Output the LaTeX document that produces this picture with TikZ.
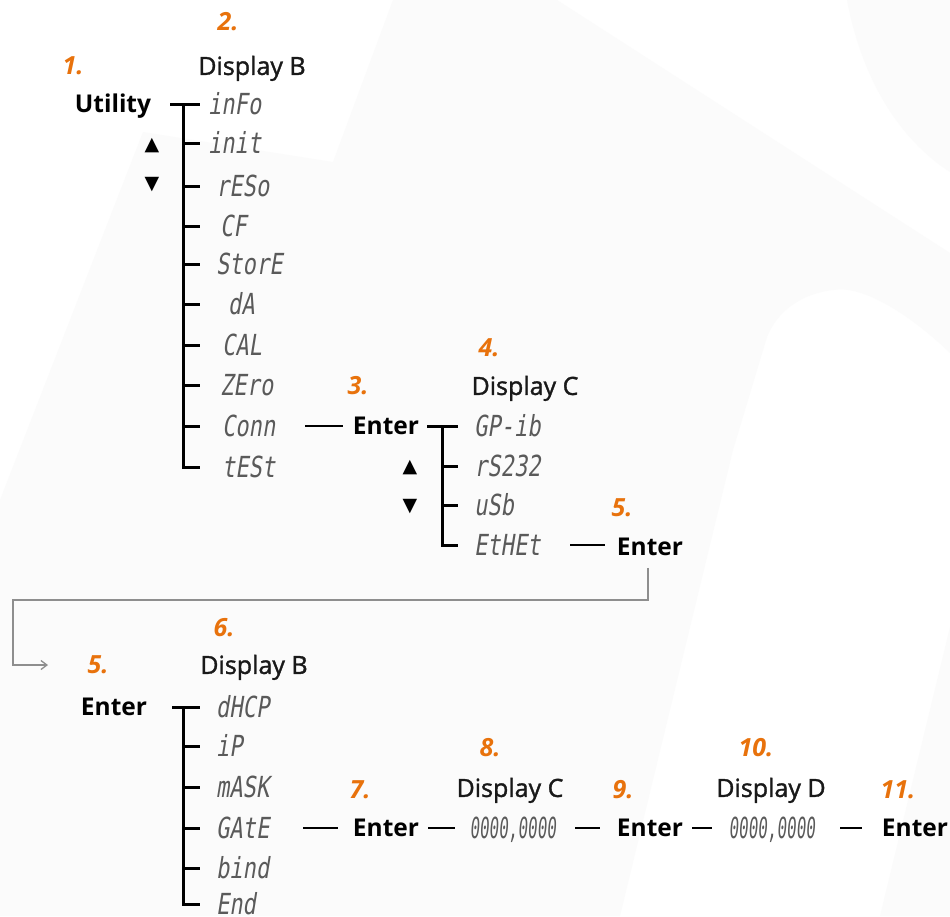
\documentclass[tikz,border=0pt]{standalone}
\usepackage{fontspec}
\setmainfont{Open Sans}
\newfontfamily\lblfont[FakeBold=1.4]{Open Sans}
\newfontfamily\symfont{DejaVu Sans}
\newfontfamily\segfont[FakeStretch=0.76,FakeSlant=0.16]{DejaVu Sans Mono}
\newfontfamily\digfont[FakeStretch=0.55,FakeSlant=0.08]{DejaVu Sans Mono}
\usetikzlibrary{arrows.meta}
\definecolor{orng}{HTML}{E8720C}
\definecolor{segc}{HTML}{5A5A5A}
\definecolor{gline}{HTML}{8E8E8E}
\definecolor{bgc}{HTML}{FBFBFB}
\begin{document}
\begin{tikzpicture}[x=1pt,y=-1pt,
  lbl/.style={font=\lblfont\fontsize{25}{28}\selectfont, text=black!90, inner sep=0, text height=17.8pt, text depth=0pt},
  key/.style={font=\bfseries\fontsize{24.5}{28}\selectfont, inner sep=0, text height=17.5pt, text depth=0pt},
  num/.style={font=\bfseries\itshape\fontsize{25}{28}\selectfont, text=orng, inner sep=0, text height=17.8pt, text depth=0pt},
  seg/.style={font=\segfont\fontsize{29}{32}\selectfont, text=segc, anchor=west, inner sep=0, text height=21pt, text depth=0pt},
  dig/.style={font=\digfont\fontsize{29}{32}\selectfont, text=segc, inner sep=0, text height=21pt, text depth=0pt},
  arr/.style={font=\symfont\fontsize{19}{22}\selectfont, inner sep=0},
  tree/.style={line width=3pt, black},
  link/.style={line width=2.6pt, black},
]
\useasboundingbox (0,0) rectangle (950,916);
% ---------- faint background ----------
\fill[white] (0,0) rectangle (950,916);
\fill[bgc] (0,500) -- (143,132) -- (333,162) -- (393,0) -- (557,0) -- (950,253) -- (950,353)
  .. controls (905,310) and (860,285) .. (833,290)
  .. controls (800,294) and (777,312) .. (767,337)
  -- (733,450) -- (620,916) -- (0,916) -- cycle;
\fill[bgc] (950,627) -- (880,916) -- (950,916) -- cycle;
\fill[bgc] (847,0) .. controls (862,80) and (900,140) .. (950,172) -- (950,0) -- cycle;

% ---------- first menu ----------
\node[num] (n1) at (73,66) {1.};
\node[num] (n2) at (228,22) {2.};
\node[lbl] (dB1) at (252,66) {Display B};
\node[key] (util) at (113,104) {Utility};
\node[arr] (up1) at (152,146) {▲};
\node[arr] (dn1) at (152,185) {▼};

\node[seg] (a1)  at (208,104) {inFo};
\node[seg] (a2)  at (208,143) {init};
\node[seg] (a3)  at (216,186) {rESo};
\node[seg] (a4)  at (220,226) {CF};
\node[seg] (a5)  at (216,264) {StorE};
\node[seg] (a6)  at (228,304) {dA};
\node[seg] (a7)  at (222,345) {CAL};
\node[seg] (a8)  at (220,385) {ZEro};
\node[seg] (a9)  at (222,426) {Conn};
\node[seg] (a10) at (222,467) {tESt};

\coordinate (t1) at (183,104);
\draw[tree] (170,104) -- (200,104);
\draw[tree] (t1) |- (200,467);
\foreach \y in {143,186,226,264,304,345,385,426} \draw[tree] (183,\y) -- (200,\y);

% ---------- Conn -> Enter -> Display C ----------
\node[num] (n3) at (358,386) {3.};
\node[key] (ent3) at (386,426) {Enter};
\draw[link] (305,426) -- (343,426);
\node[num] (n4) at (489,348) {4.};
\node[lbl] (dC1) at (525,386) {Display C};
\node[arr] (up2) at (410,468) {▲};
\node[arr] (dn2) at (410,507) {▼};

\node[seg] (b1) at (474,426) {GP-ib};
\node[seg] (b2) at (474,466) {rS232};
\node[seg] (b3) at (474,505) {uSb};
\node[seg] (b4) at (474,545) {EtHEt};

\draw[tree] (427,426) -- (458,426);
\draw[tree] (442,426) |- (458,545);
\foreach \y in {466,505} \draw[tree] (442,\y) -- (458,\y);

\node[num] (n5a) at (622,508) {5.};
\node[key] (ent5a) at (650,547) {Enter};
\draw[link] (570,545) -- (605,545);

% ---------- return connector ----------
\coordinate (r1) at (648,600);
\coordinate (r2) at (13,600);
\coordinate (r3) at (13,665);
\coordinate (r4) at (48,665);
\draw[gline, line width=2pt, -{Straight Barb[length=6pt,width=9pt,line width=1.3pt]}]
  ([yshift=-12pt]ent5a.south -| r1) -- (r1) -- (r2) -- (r3) -- (r4);

% ---------- second menu ----------
\node[num] (n5b) at (98,665) {5.};
\node[num] (n6) at (224,628) {6.};
\node[lbl] (dB2) at (254,665) {Display B};
\node[key] (ent5b) at (114,707) {Enter};

\node[seg] (c1) at (216,707) {dHCP};
\node[seg] (c2) at (216,746) {iP};
\node[seg] (c3) at (216,787) {mASK};
\node[seg] (c4) at (216,828) {GAtE};
\node[seg] (c5) at (216,868) {bind};
\node[seg] (c6) at (216,904) {End};

\draw[tree] (172,707) -- (200,707);
\draw[tree] (183,707) |- (200,904);
\foreach \y in {746,787,828,868} \draw[tree] (183,\y) -- (200,\y);

% ---------- bottom chain ----------
\node[num] (n7) at (360,790) {7.};
\node[key] (ent7) at (386,828) {Enter};
\draw[link] (303,828) -- (338,828);
\node[num] (n8) at (490,748) {8.};
\node[lbl] (dC2) at (510,788) {Display C};
\node[dig] (v1) at (513,828) {0000,0000};
\draw[link] (428,828) -- (455,828);
\node[num] (n9) at (623,790) {9.};
\node[key] (ent9) at (650,828) {Enter};
\draw[link] (575,828) -- (600,828);
\node[num] (n10) at (756,748) {10.};
\node[lbl] (dD) at (771,788) {Display D};
\node[dig] (v2) at (772,828) {0000,0000};
\draw[link] (692,828) -- (712,828);
\node[num] (n11) at (898,790) {11.};
\node[key] (ent11) at (915,828) {Enter};
\draw[link] (840,828) -- (862,828);
\end{tikzpicture}
\end{document}
